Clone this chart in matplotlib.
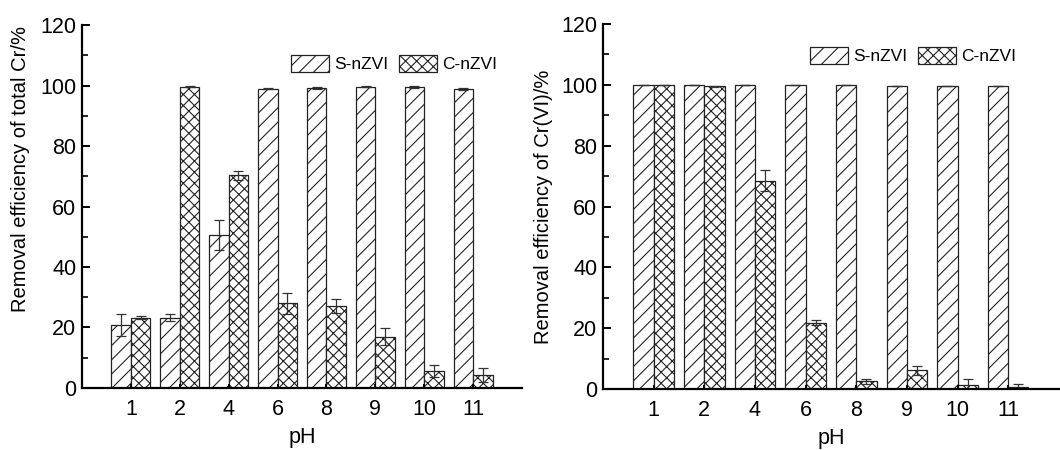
import matplotlib
matplotlib.use("Agg")
import matplotlib.pyplot as plt
import numpy as np
from matplotlib.ticker import MultipleLocator
import matplotlib.hatch as mhatch

plt.rcParams['font.family'] = ['Liberation Sans', 'DejaVu Sans']
plt.rcParams['hatch.linewidth'] = 0.8

# finer control over hatch line spacing (must be even for seamless tiling)
def _ne_init(self, hatch, density):
    self.num_lines = hatch.count('/') * 14 + (hatch.count('x') + hatch.count('X')) * 18
    self.num_vertices = (self.num_lines + 1) * 2 if self.num_lines else 0

def _se_init(self, hatch, density):
    self.num_lines = hatch.count('\\') * 14 + (hatch.count('x') + hatch.count('X')) * 18
    self.num_vertices = (self.num_lines + 1) * 2 if self.num_lines else 0

mhatch.NorthEastHatch.__init__ = _ne_init
mhatch.SouthEastHatch.__init__ = _se_init

ph_labels = ['1', '2', '4', '6', '8', '9', '10', '11']

total_s = [20.8, 23.3, 50.5, 99.0, 99.2, 99.6, 99.5, 98.8]
total_s_err = [3.5, 1.0, 5.0, 0.2, 0.2, 0.2, 0.2, 0.3]
total_c = [23.2, 99.6, 70.3, 28.0, 27.0, 17.0, 5.5, 4.3]
total_c_err = [0.5, 0.2, 1.5, 3.5, 2.3, 2.8, 2.0, 2.3]

cr6_s = [99.8, 99.8, 99.8, 99.8, 99.8, 99.6, 99.6, 99.6]
cr6_s_err = [0, 0, 0, 0, 0, 0, 0, 0]
cr6_c = [100.0, 99.5, 68.5, 21.8, 2.5, 6.2, 1.3, 0.5]
cr6_c_err = [0, 0.2, 3.5, 0.8, 0.8, 1.5, 2.0, 1.0]

fig = plt.figure(figsize=(10.6, 4.5), dpi=100)
ax1 = fig.add_axes([0.0774, 0.1378, 0.4151, 0.8066])
ax2 = fig.add_axes([0.5689, 0.1356, 0.4300, 0.8110])

def draw(ax, s, se, c, ce, ylabel, leg_xy):
    x = np.arange(1, len(ph_labels) + 1)
    w = 0.4
    ekw = dict(elinewidth=0.9, capthick=0.9, ecolor='#333333')
    ax.bar(x - w/2, s, w, yerr=se, capsize=3.5, color='white', edgecolor='#222222',
           linewidth=0.9, hatch='/', label='S-nZVI', error_kw=ekw)
    ax.bar(x + w/2, c, w, yerr=ce, capsize=3.5, color='white', edgecolor='#222222',
           linewidth=0.9, hatch='x', label='C-nZVI', error_kw=ekw)
    ax.set_xlim(0, 9)
    ax.set_ylim(0, 120)
    ax.set_xticks(x)
    ax.set_xticklabels(ph_labels)
    ax.yaxis.set_major_locator(MultipleLocator(20))
    ax.yaxis.set_minor_locator(MultipleLocator(10))
    for sp in ['top', 'right']:
        ax.spines[sp].set_visible(False)
    for sp in ['left', 'bottom']:
        ax.spines[sp].set_linewidth(1.6)
    ax.tick_params(axis='y', which='major', direction='in', length=6, width=1.4,
                   labelsize=15.5, pad=4)
    ax.tick_params(axis='y', which='minor', direction='in', length=4, width=1.2)
    ax.tick_params(axis='x', which='major', direction='in', length=3, width=1.4,
                   labelsize=15.5, pad=8)
    ax.set_xlabel('pH', fontsize=15.5, labelpad=5)
    ax.set_ylabel(ylabel, fontsize=14.5, labelpad=6)
    ax.legend(loc='upper left', bbox_to_anchor=leg_xy, ncol=2, frameon=False,
              fontsize=12.5, handlelength=2.2, handleheight=1.1, columnspacing=0.6,
              handletextpad=0.3, borderpad=0, borderaxespad=0)

draw(ax1, total_s, total_s_err, total_c, total_c_err,
     'Removal efficiency of total Cr/%', (0.475, 0.917))
draw(ax2, cr6_s, cr6_s_err, cr6_c, cr6_c_err,
     'Removal efficiency of Cr(VI)/%', (0.454, 0.937))
ax1.yaxis.set_label_coords(-0.118, 0.603)

fig.savefig('out.png', dpi=100)
